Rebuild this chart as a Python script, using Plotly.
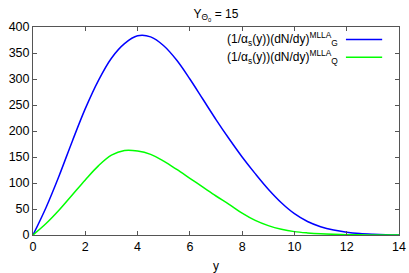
import plotly.graph_objects as go

y_gluon = [0.0, 0.5, 1.0, 1.5, 2.0, 2.5, 3.0, 3.5, 4.0, 4.5, 5.0, 5.5, 6.0, 6.5, 7.0,
           7.5, 8.0, 8.5, 9.0, 9.5, 10.0, 10.5, 11.0, 11.5, 12.0, 12.5, 13.0, 13.5, 14.0]
dn_gluon = [0, 53, 114, 180, 243, 297, 340, 368, 383, 381, 364, 336, 300, 261, 222,
            185, 150, 118, 88, 62, 41, 26, 16, 9.5, 5.5, 3, 1.5, 0.5, 0]

y_quark = [0.0, 0.5, 1.0, 1.5, 2.0, 2.5, 3.0, 3.5, 4.0, 4.5, 5.0, 5.5, 6.0, 6.5, 7.0,
           7.5, 8.0, 8.5, 9.0, 9.5, 10.0, 10.5, 11.0, 11.5, 12.0, 12.5, 13.0, 13.5, 14.0]
dn_quark = [0, 22, 48, 77, 106, 133, 153.5, 162.5, 161.5, 155, 142, 126, 109, 92, 75,
            59, 42, 28, 18, 11, 6.5, 4, 2.3, 1.3, 0.7, 0.35, 0.15, 0.05, 0]

x_ticks = [0, 2, 4, 6, 8, 10, 12, 14]
y_ticks = [0, 50, 100, 150, 200, 250, 300, 350, 400]

label_g = "(1/α<sub>s</sub>(y))(dN/dy)<sup>MLLA</sup><sub>G</sub>"
label_q = "(1/α<sub>s</sub>(y))(dN/dy)<sup>MLLA</sup><sub>Q</sub>"
title_text = "Y<sub>Θ<sub>0</sub></sub> = 15"

BLUE = "#0000ff"
GREEN = "#00ff00"
FONT = "Liberation Sans, Arial, sans-serif"

fig = go.Figure()
fig.add_trace(go.Scatter(x=y_gluon, y=dn_gluon, mode="lines",
                         line=dict(color=BLUE, width=1.5, shape="spline", smoothing=1.0),
                         name=label_g, showlegend=False))
fig.add_trace(go.Scatter(x=y_quark, y=dn_quark, mode="lines",
                         line=dict(color=GREEN, width=1.5, shape="spline", smoothing=1.0),
                         name=label_q, showlegend=False))

axis_common = dict(showgrid=False, zeroline=False, showline=True, linecolor="#555555", linewidth=1,
                   mirror="ticks", ticks="inside", ticklen=4, tickcolor="#555555", automargin=False,
                   tickfont=dict(family=FONT, size=12.5, color="black"))

fig.update_xaxes(range=[0, 14], tickvals=x_ticks,
                 title=dict(text="y", font=dict(family=FONT, size=12, color="black"), standoff=10),
                 **axis_common)
fig.update_yaxes(range=[0, 400], tickvals=y_ticks, **axis_common)

# legend (gnuplot style: text right-aligned, sample line on the right)
for i, (lab, col) in enumerate([(label_g, BLUE), (label_q, GREEN)]):
    yy = 0.94 - i * 0.086
    fig.add_annotation(xref="paper", yref="paper", x=0.84, y=yy, text=lab, showarrow=False,
                       xanchor="right", yanchor="middle", font=dict(family=FONT, size=12, color="black"))
    fig.add_shape(type="line", xref="paper", yref="paper", x0=0.855, x1=0.954, y0=yy, y1=yy,
                  line=dict(color=col, width=1.5))

fig.update_layout(
    width=409, height=273,
    margin=dict(l=33, r=10, t=27, b=38, autoexpand=False),
    paper_bgcolor="white", plot_bgcolor="white",
    title=dict(text=title_text, x=0.528, xanchor="center", y=0.965, yanchor="top",
               font=dict(family=FONT, size=12, color="black")),
    font=dict(family=FONT, size=12, color="black"),
)

fig.write_html("out.html", config={"displayModeBar": False},
               post_script="document.body.style.margin='0';")
